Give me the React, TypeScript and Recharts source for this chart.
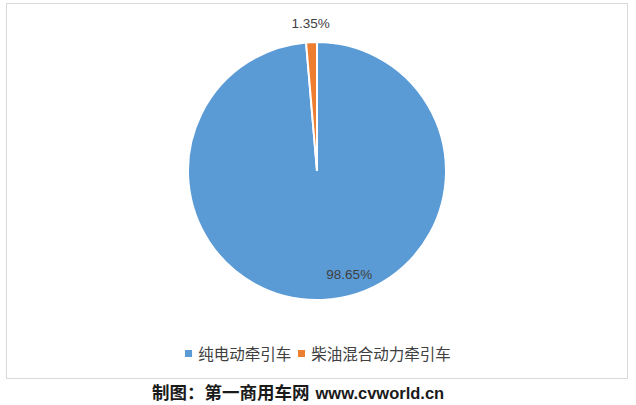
import React from 'react';
import { PieChart, Pie, Cell, Legend } from 'recharts';

const categories = ['纯电动牵引车', '柴油混合动力牵引车'];
const shares = [98.65, 1.35];
const colors = ['#5B9BD5', '#ED7D31'];
const footerCn = '制图：第一商用车网';
const footerUrl = 'www.cvworld.cn';

const data = categories.map((name, i) => ({ name, value: shares[i] }));

const RAD = Math.PI / 180;

const renderLabel = (props: any) => {
  const { cx, cy, outerRadius, midAngle, index, value } = props;
  let x: number;
  let y: number;
  if (index === 0) {
    x = cx + outerRadius * 0.25;
    y = cy + outerRadius * 0.8;
  } else {
    const r = outerRadius + 19;
    x = cx + r * Math.cos(-midAngle * RAD);
    y = cy + r * Math.sin(-midAngle * RAD);
  }
  return (
    <text
      x={x}
      y={y}
      textAnchor="middle"
      dominantBaseline="central"
      fill="#404040"
      fontSize={13.5}
      fontFamily="'Liberation Sans', Arial, sans-serif"
    >
      {value.toFixed(2)}%
    </text>
  );
};

const renderLegend = () => (
  <div
    style={{
      display: 'flex',
      alignItems: 'center',
      justifyContent: 'center',
      fontFamily: "'Noto Sans CJK SC', sans-serif",
      fontSize: 15.5,
      color: '#404040',
      lineHeight: '20px',
    }}
  >
    {categories.map((c, i) => (
      <div key={c} style={{ display: 'flex', alignItems: 'center', marginRight: i === 0 ? 7 : 0 }}>
        <span
          style={{
            display: 'inline-block',
            width: 7,
            height: 7,
            background: colors[i],
            marginRight: 6,
          }}
        />
        <span>{c}</span>
      </div>
    ))}
  </div>
);

export default function App() {
  return (
    <div style={{ position: 'fixed', left: 0, top: 0, width: 636, height: 405, background: '#fff' }}>
      <div
        style={{
          position: 'absolute',
          left: 6,
          top: 3,
          width: 620,
          height: 374,
          border: '1px solid #d9d9d9',
          boxSizing: 'content-box',
        }}
      />
      <div style={{ position: 'absolute', left: 0, top: 0 }}>
        <PieChart width={636} height={405} margin={{ top: 0, right: 0, bottom: 0, left: 0 }}>
          <Pie
            data={data}
            dataKey="value"
            nameKey="name"
            cx={317}
            cy={171}
            outerRadius={129}
            startAngle={90}
            endAngle={-270}
            stroke="#ffffff"
            strokeWidth={2}
            label={renderLabel}
            labelLine={false}
            isAnimationActive={false}
          >
            {data.map((d, i) => (
              <Cell key={d.name} fill={colors[i]} />
            ))}
          </Pie>
          <Legend
            content={renderLegend}
            wrapperStyle={{ position: 'absolute', left: 0, top: 343, width: 636 }}
          />
        </PieChart>
      </div>
      <div
        style={{
          position: 'absolute',
          left: 152,
          top: 381,
          whiteSpace: 'nowrap',
          fontWeight: 'bold',
          color: '#1a1a1a',
          lineHeight: '22px',
        }}
      >
        <span style={{ fontFamily: "'Noto Sans CJK SC', sans-serif", fontSize: 17.5 }}>{footerCn}</span>
        <span style={{ fontFamily: "'Liberation Sans', sans-serif", fontSize: 16.5, marginLeft: 6 }}>{footerUrl}</span>
      </div>
    </div>
  );
}
